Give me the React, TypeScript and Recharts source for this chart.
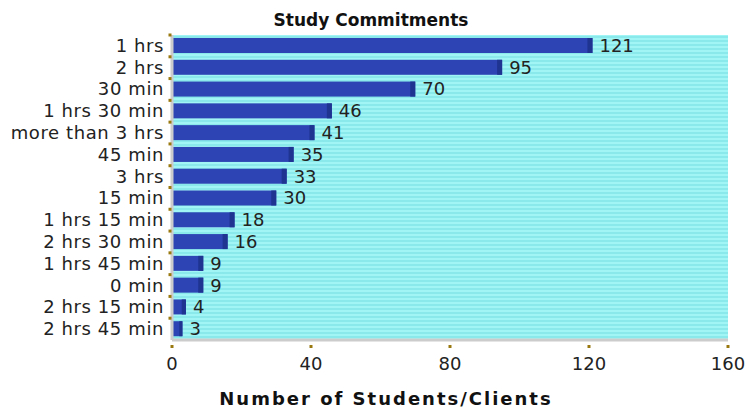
import React from 'react';
import { BarChart, Bar, XAxis, YAxis, CartesianGrid, LabelList } from 'recharts';

const categories = ['1 hrs', '2 hrs', '30 min', '1 hrs 30 min', 'more than 3 hrs', '45 min', '3 hrs', '15 min', '1 hrs 15 min', '2 hrs 30 min', '1 hrs 45 min', '0 min', '2 hrs 15 min', '2 hrs 45 min'];
const counts = [121, 95, 70, 46, 41, 35, 33, 30, 18, 16, 9, 9, 4, 3];
const xTicks = [0, 40, 80, 120, 160];

const data = categories.map((c, i) => ({ name: c, value: counts[i] }));

const FONT = '"DejaVu Sans", sans-serif';

const BarShape = (props: any) => {
  const { x, y, width, height } = props;
  if (!width || width <= 0) return null;
  const edge = Math.min(5, width * 0.3);
  return (
    <g>
      <rect x={x} y={y} width={width} height={height} fill="#2c44b4" />
      <rect x={x + width - edge} y={y} width={edge} height={height} fill="#1f3391" />
    </g>
  );
};

const YTick = (props: any) => {
  const { x, y, payload } = props;
  const band = 21.8;
  return (
    <g>
      <text x={x} y={y} dy={6} textAnchor="end" fontFamily={FONT} fontSize={18} letterSpacing={0.6} fill="#222">
        {payload.value}
      </text>
      <rect x={x + 4.5} y={y - band / 2 - 1.5} width={3} height={3} fill="#9a7a10" />
    </g>
  );
};

const XTick = (props: any) => {
  const { x, y, payload } = props;
  return (
    <g>
      <rect x={x - 1.5} y={y - 3} width={3} height={3} fill="#9a7a10" />
      <text x={x} y={y + 22} textAnchor="middle" fontFamily={FONT} fontSize={18} fill="#222">
        {payload.value}
      </text>
    </g>
  );
};

export default function App() {
  return (
    <div style={{ position: 'absolute', left: 0, top: 0, width: 749, height: 416, background: '#fff' }}>
      <BarChart
        width={749}
        height={416}
        data={data}
        layout="vertical"
        margin={{ top: 35, right: 21, left: 0, bottom: 46 }}
        barSize={15}
      >
        <defs>
          <pattern id="stripes" patternUnits="userSpaceOnUse" width={8} height={4}>
            <rect x={0} y={0} width={8} height={4} fill="#a2f5f5" />
            <rect x={0} y={0} width={8} height={2} fill="#8ae9eb" />
          </pattern>
        </defs>
        <CartesianGrid horizontal={false} vertical={false} fill="url(#stripes)" fillOpacity={1} />
        <XAxis
          type="number"
          domain={[0, 160]}
          ticks={xTicks}
          height={30}
          tick={<XTick />}
          tickLine={false}
          axisLine={{ stroke: '#cccccc', strokeWidth: 3 }}
        />
        <YAxis
          type="category"
          dataKey="name"
          width={172}
          tick={<YTick />}
          tickLine={false}
          interval={0}
          axisLine={{ stroke: '#cccccc', strokeWidth: 3 }}
        />
        <Bar dataKey="value" shape={<BarShape />} isAnimationActive={false}>
          <LabelList dataKey="value" position="right" offset={7} style={{ fontFamily: FONT, fontSize: 18, fill: '#222' }} />
        </Bar>
      </BarChart>
      <svg width={749} height={416} style={{ position: 'absolute', left: 0, top: 0, pointerEvents: 'none' }}>
        <text x={371} y={26} textAnchor="middle" fontFamily={FONT} fontWeight="bold" fontSize={17} fill="#111">
          Study Commitments
        </text>
        <text x={386} y={405} textAnchor="middle" fontFamily={FONT} fontWeight="bold" fontSize={18} letterSpacing={2} fill="#111">
          Number of Students/Clients
        </text>
      </svg>
    </div>
  );
}
